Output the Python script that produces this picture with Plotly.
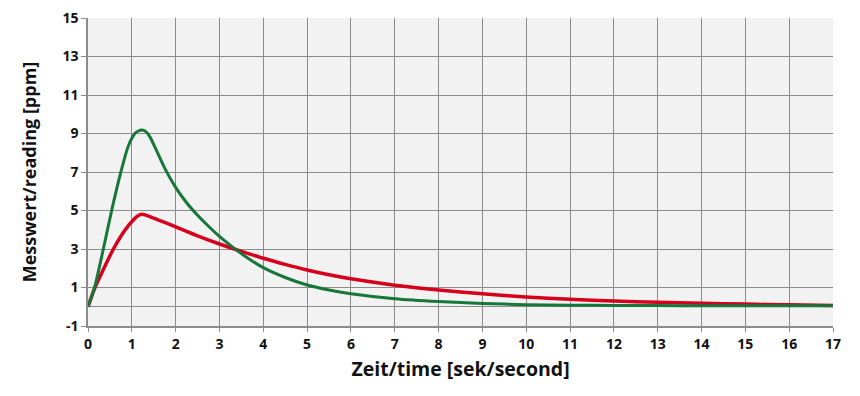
import plotly.graph_objects as go

green_x = [0, 0.15, 0.35, 0.54, 0.75, 0.92, 1.07, 1.15, 1.23, 1.32, 1.42, 1.53, 1.75, 2.0, 2.25, 2.5, 2.75, 3.0, 3.3, 3.6, 4.0, 4.5, 5.0, 5.5, 6.0, 7.0, 8.0, 9.0, 10.0, 11.0, 12.0, 13.0, 14.0, 15.0, 16.0, 17.0]
green_y = [0, 1.0, 3.0, 5.0, 7.0, 8.35, 9.0, 9.13, 9.18, 9.1, 8.8, 8.28, 7.2, 6.2, 5.4, 4.75, 4.18, 3.65, 3.1, 2.6, 2.03, 1.52, 1.13, 0.87, 0.68, 0.42, 0.27, 0.17, 0.11, 0.08, 0.07, 0.06, 0.055, 0.05, 0.05, 0.05]

red_x = [0, 0.16, 0.58, 0.85, 1.05, 1.15, 1.22, 1.32, 1.5, 1.75, 2.0, 2.5, 3.0, 3.5, 4.0, 4.5, 5.0, 5.5, 6.0, 7.0, 8.0, 9.0, 10.0, 11.0, 12.0, 13.0, 14.0, 15.0, 16.0, 17.0]
red_y = [0, 1.0, 3.0, 4.0, 4.55, 4.74, 4.8, 4.76, 4.6, 4.38, 4.15, 3.68, 3.26, 2.88, 2.52, 2.2, 1.91, 1.66, 1.45, 1.12, 0.87, 0.67, 0.51, 0.39, 0.3, 0.23, 0.18, 0.14, 0.1, 0.07]

x_ticks = list(range(0, 18))
y_ticks = list(range(-1, 16, 2))

fig = go.Figure()
fig.add_trace(go.Scatter(x=red_x, y=red_y, mode="lines",
                         line=dict(color="#d7001c", width=3.5, shape="spline", smoothing=0.6),
                         showlegend=False))
fig.add_trace(go.Scatter(x=green_x, y=green_y, mode="lines",
                         line=dict(color="#17763a", width=3, shape="spline", smoothing=0.6),
                         showlegend=False))

font_family = "'Open Sans', sans-serif"
fig.update_layout(
    width=860, height=396,
    margin=dict(l=80, r=35, t=10, b=78),
    paper_bgcolor="white",
    plot_bgcolor="#f2f2f2",
    font=dict(family=font_family, color="#111111"),
    xaxis=dict(
        range=[0, 17], tickvals=x_ticks, ticktext=[str(v) for v in x_ticks],
        showgrid=True, gridcolor="#8c8c8c", gridwidth=1,
        showline=True, linecolor="#8c8c8c", linewidth=1.5,
        ticks="outside", ticklen=4, tickcolor="#8c8c8c",
        tickfont=dict(size=14, family=font_family, weight="bold"),
        ticklabeloverflow="allow",
        title=dict(text="<b>Zeit/time [sek/second]</b>", font=dict(size=19.5, family=font_family), standoff=11),
        zeroline=False, mirror=False, automargin=False,
    ),
    yaxis=dict(
        range=[-1, 15], tickvals=y_ticks, ticktext=[str(v) for v in y_ticks],
        showgrid=True, gridcolor="#8c8c8c", gridwidth=1,
        showline=True, linecolor="#8c8c8c", linewidth=1.5,
        ticks="outside", ticklen=5, tickcolor="#8c8c8c",
        tickfont=dict(size=14, family=font_family, weight="bold"),
        ticklabeloverflow="allow",
        title=dict(text="<b>Messwert/reading [ppm]</b>", font=dict(size=18, family=font_family), standoff=21),
        zeroline=True, zerolinecolor="#8c8c8c", zerolinewidth=1, automargin=False,
    ),
)

fig.write_html("out.html")
